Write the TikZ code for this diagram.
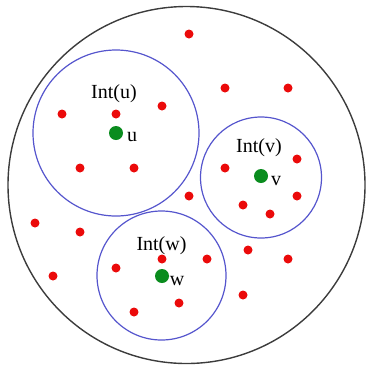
\documentclass[tikz,border=0pt]{standalone}
\usepackage{fontspec}
\setmainfont{Liberation Serif}
\definecolor{regblue}{RGB}{85,85,205}
\definecolor{dotred}{RGB}{235,10,10}
\definecolor{dotgreen}{RGB}{10,140,30}
\definecolor{outergray}{RGB}{60,60,60}
\begin{document}
\begin{tikzpicture}[x=1pt,y=-1pt,
  outerc/.style={circle,draw=outergray,line width=1.4pt,inner sep=0pt,minimum size=#1},
  region/.style={circle,draw=regblue,line width=1.2pt,inner sep=0pt,minimum size=#1},
  reddot/.style={circle,fill=dotred,inner sep=0pt,minimum size=9pt},
  greendot/.style={circle,fill=dotgreen,inner sep=0pt,minimum size=14pt},
  lbl/.style={inner sep=0pt,font=\fontsize{20}{24}\selectfont},
]
\useasboundingbox (0,0) rectangle (366,365);
\node[outerc=357pt] (outer) at (186.5,185) {};
\node[region=166pt] (ru) at (116,133) {};
\node[region=121pt] (rv) at (261,177.5) {};
\node[region=129pt] (rw) at (161.5,275.5) {};
% labels
\node[lbl,anchor=base] (lu) at (114,98) {Int(u)};
\node[lbl,anchor=base] (lv) at (259,152) {Int(v)};
\node[lbl,anchor=base] (lw) at (161.5,250) {Int(w)};
% green points
\node[greendot] (u) at (116,133) {};
\node[greendot] (v) at (261,176) {};
\node[greendot] (w) at (162,276) {};
\node[lbl] (tu) at (132,137) {u};
\node[lbl] (tv) at (276,181) {v};
\node[lbl] (tw) at (177,281) {w};
% red points
\node[reddot] (p1) at (189,34) {};
\node[reddot] (p2) at (62,114) {};
\node[reddot] (p3) at (116,114) {};
\node[reddot] (p4) at (162,106) {};
\node[reddot] (p5) at (225,88) {};
\node[reddot] (p6) at (288,88) {};
\node[reddot] (p7) at (80,168) {};
\node[reddot] (p8) at (134,168) {};
\node[reddot] (p9) at (225,168) {};
\node[reddot] (p10) at (297,159) {};
\node[reddot] (p11) at (189,196) {};
\node[reddot] (p12) at (297,196) {};
\node[reddot] (p13) at (243,205) {};
\node[reddot] (p14) at (270,214) {};
\node[reddot] (p15) at (35,223) {};
\node[reddot] (p16) at (80,232) {};
\node[reddot] (p17) at (248,250) {};
\node[reddot] (p18) at (162,259) {};
\node[reddot] (p19) at (207,259) {};
\node[reddot] (p20) at (288,259) {};
\node[reddot] (p21) at (116,268) {};
\node[reddot] (p22) at (53,276) {};
\node[reddot] (p23) at (243,295) {};
\node[reddot] (p24) at (179,303) {};
\node[reddot] (p25) at (134,312) {};
\end{tikzpicture}
\end{document}
